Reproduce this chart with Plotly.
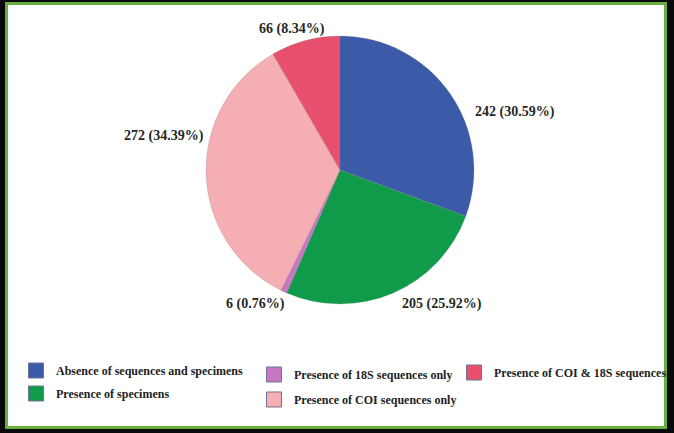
import plotly.graph_objects as go

labels = ["Absence of sequences and specimens", "Presence of specimens",
          "Presence of 18S sequences only", "Presence of COI sequences only",
          "Presence of COI & 18S sequences"]
values = [242, 205, 6, 272, 66]
colors = ["#3B5BA9", "#0F9B4A", "#C878C2", "#F5AEB3", "#E8506D"]
legend_columns = [[0, 1], [2, 3], [4]]

W, H = 674, 433
# data-label anchor points (pixels from top-left), one per slice
label_px = [(515, 112), (442, 304), (255, 304), (164, 136), (292, 29)]
# legend column anchors (pixels from top-left)
legend_px = [(16, 356, 4), (254, 360, 6), (454, 358, 4)]

total = sum(values)
texts = [f"{v} ({v / total * 100:.2f}%)" for v in values]
SERIF = "Liberation Serif, Times New Roman, serif"

fig = go.Figure()
fig.add_trace(go.Pie(
    labels=labels, values=values, sort=False, direction="clockwise",
    rotation=0, marker=dict(colors=colors, line=dict(color="rgba(120,120,120,0.35)", width=0.6)),
    textinfo="none", showlegend=False,
    domain=dict(x=[206 / W, 474 / W], y=[1 - 304 / H, 1 - 36 / H]),
    automargin=False, hoverinfo="skip",
))
legend_names = ["legend", "legend2", "legend3"]
for c, idxs in enumerate(legend_columns):
    for i in idxs:
        fig.add_trace(go.Scatter(
            x=[None], y=[None], mode="markers", name=labels[i],
            legend=legend_names[c], legendgroup=f"g{i}",
            marker=dict(symbol="square", size=15, color=colors[i], line=dict(color="#6f7296", width=1)),
        ))

annotations = [
    dict(x=px / W, y=1 - py / H, xref="paper", yref="paper", text=t, showarrow=False,
         xanchor="center", yanchor="middle",
         font=dict(family=SERIF, size=14, color="#262626", weight="bold"))
    for (px, py), t in zip(label_px, texts)
]

legends = {}
for name, (lx, ly, gap) in zip(legend_names, legend_px):
    legends[name] = dict(
        orientation="v", x=lx / W, y=1 - ly / H, xanchor="left", yanchor="top",
        bgcolor="rgba(0,0,0,0)", itemwidth=30, traceorder="grouped", tracegroupgap=gap,
        font=dict(family=SERIF, size=12, color="#222222", weight="bold"),
    )

fig.update_layout(
    width=W, height=H, margin=dict(l=0, r=0, t=0, b=0),
    paper_bgcolor="#0a0a0a", plot_bgcolor="rgba(0,0,0,0)",
    xaxis=dict(visible=False), yaxis=dict(visible=False),
    annotations=annotations,
    shapes=[dict(type="rect", xref="paper", yref="paper", layer="below",
                 x0=6.5 / W, x1=665.5 / W, y0=1 - 427.5 / H, y1=1 - 3.5 / H,
                 line=dict(color="#6AAE3F", width=3), fillcolor="white")],
    **legends,
)
fig.write_html("out.html")
